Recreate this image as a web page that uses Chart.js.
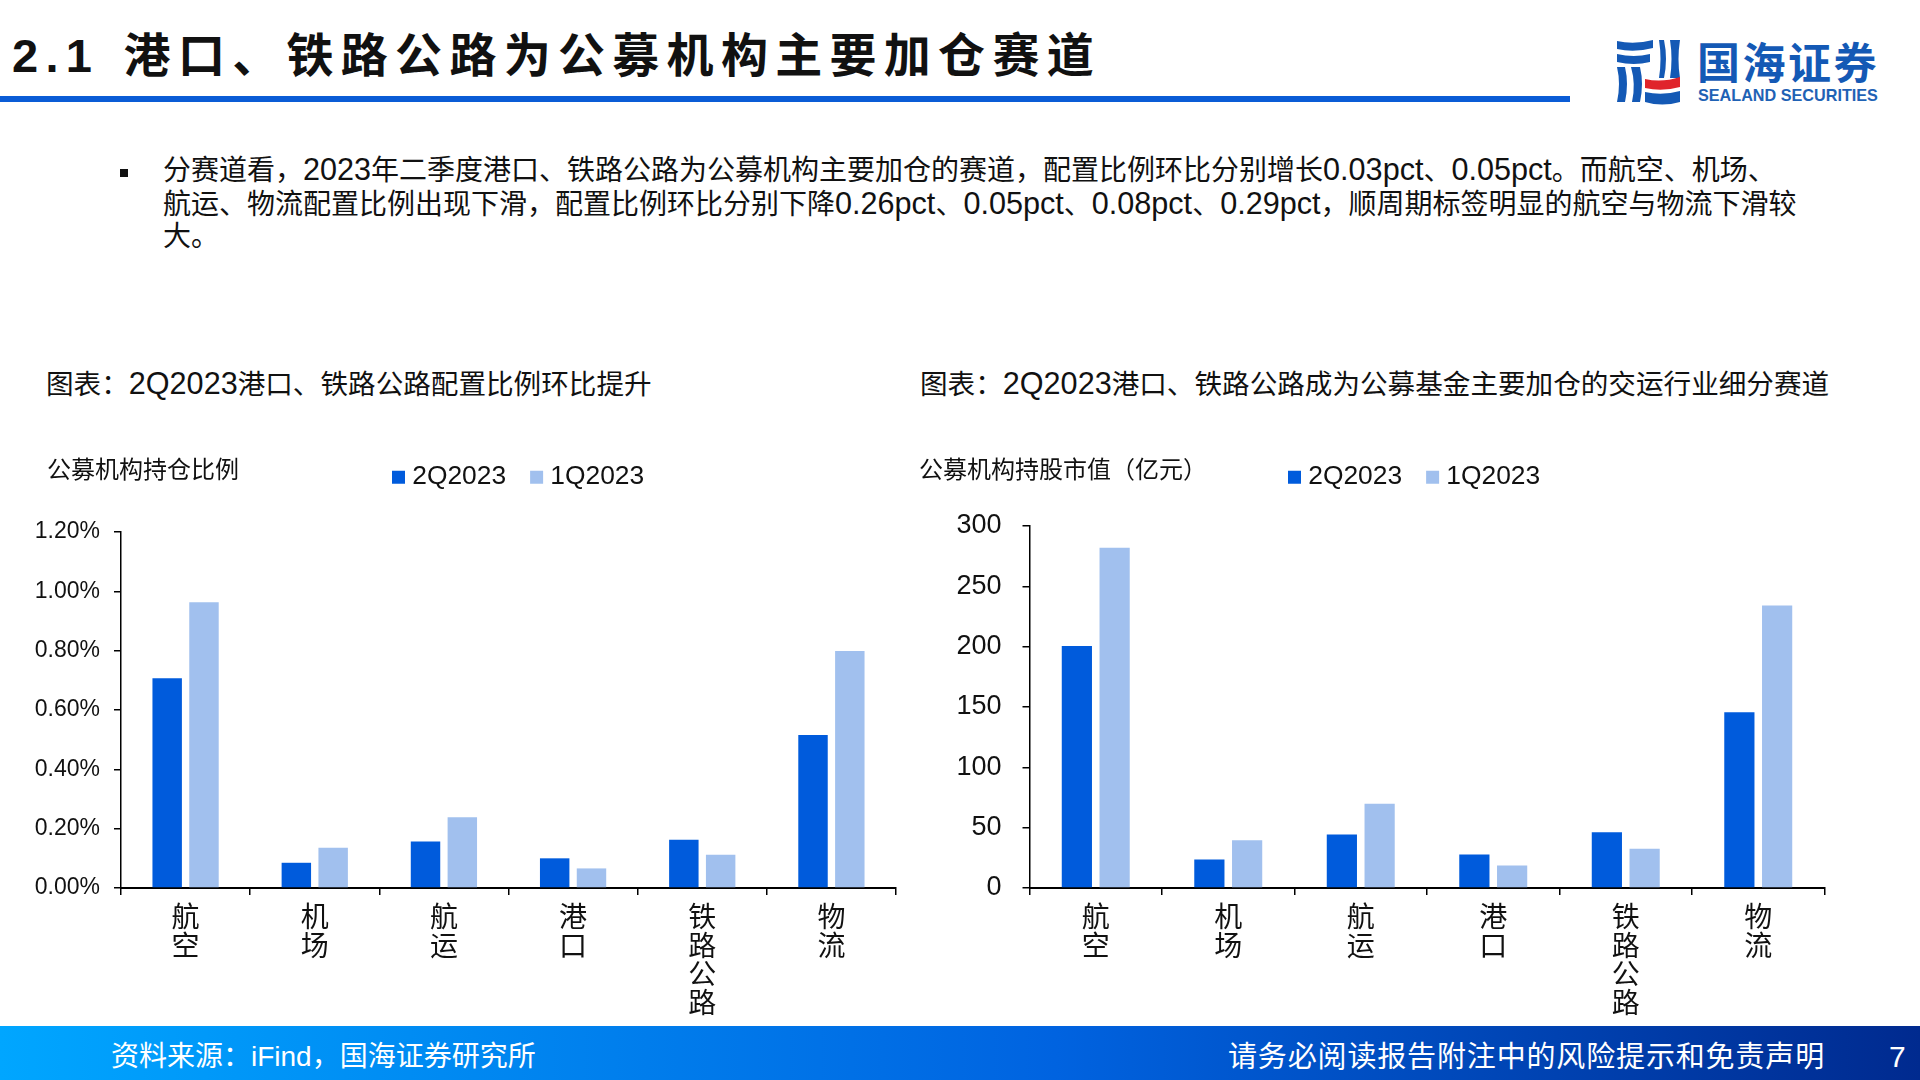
<!DOCTYPE html>
<html lang="zh-CN">
<head>
<meta charset="utf-8">
<title>2.1 港口、铁路公路为公募机构主要加仓赛道</title>
<script src="https://cdn.jsdelivr.net/npm/chart.js@4/dist/chart.umd.min.js"></script>
<style>
    html, body { margin: 0; padding: 0; background: #fff; }
    body { position: relative; width: 1920px; height: 1080px; overflow: hidden;
           font-family: "Liberation Sans", "Noto Sans CJK SC", sans-serif; color: #111; }
    .t { position: absolute; white-space: nowrap; line-height: 1; }
    .t b { font-weight: normal; font-size: 30.6px; }
    canvas { position: absolute; }
    #rule { position: absolute; left: 0; top: 96px; width: 1570px; height: 6px; background: #0a5cd6; }
    #footer { position: absolute; left: 0; top: 1026px; width: 1920px; height: 54px;
              background: linear-gradient(90deg, #00a6ff 0%, #0063e0 55%, #002a8f 100%); }
    #logo { position: absolute; left: 1610px; top: 34px; }
</style>
</head>
<body>
<div class="t" style="left:12px;top:32px;font-size:47px;font-weight:bold;letter-spacing:7.3px;word-spacing:4px;">2.1 港口、铁路公路为公募机构主要加仓赛道</div>
<div id="rule"></div>

<svg id="logo" width="76" height="74" viewBox="0 0 76 74">
    <g fill="#1459b5">
        <path d="M7 7 Q24 11 43 6 V14 Q24 19 7 15 Z"/>
        <path d="M7 20 Q24 24 40 20 V28 Q24 32 7 28 Z"/>
        <path d="M7 33 H15 Q19 50 15 68 H7 Q11 50 7 33 Z"/>
        <path d="M21 33 H30 Q34 50 30 68 H22 Q26 50 21 33 Z"/>
        <path d="M49 6 H54 Q58 25 54 44 H49 Q52 25 49 6 Z"/>
        <path d="M60 6 H70 Q67 25 70 44 H60 Q63 25 60 6 Z"/>
        <path d="M35 58 Q52 62 70 57 V68 Q52 73 35 68 Z"/>
    </g>
    <path d="M35 45 Q52 49 70 43 V53 Q52 58 35 54 Z" fill="#e0242b"/>
</svg>
<div class="t" style="left:1697px;top:43px;font-size:43px;font-weight:bold;color:#1459b5;letter-spacing:2.5px;">国海证券</div>
<div class="t" style="left:1698px;top:87px;font-size:16.2px;font-weight:bold;color:#1f62b5;">SEALAND SECURITIES</div>

<div class="t" style="left:120px;top:169px;width:8px;height:8px;background:#111;"></div>
<div class="t" style="left:163px;top:154px;font-size:28px;">分赛道看，<b>2023</b>年二季度港口、铁路公路为公募机构主要加仓的赛道，配置比例环比分别增长<b>0.03pct</b>、<b>0.05pct</b>。而航空、机场、</div>
<div class="t" style="left:163px;top:188px;font-size:28px;">航运、物流配置比例出现下滑，配置比例环比分别下降<b>0.26pct</b>、<b>0.05pct</b>、<b>0.08pct</b>、<b>0.29pct</b>，顺周期标签明显的航空与物流下滑较</div>
<div class="t" style="left:163px;top:223px;font-size:28px;">大。</div>

<div class="t" style="left:46px;top:368px;font-size:27.6px;">图表：<b>2Q2023</b>港口、铁路公路配置比例环比提升</div>
<div class="t" style="left:920px;top:368px;font-size:27.6px;">图表：<b>2Q2023</b>港口、铁路公路成为公募基金主要加仓的交运行业细分赛道</div>

<canvas id="shareChart" style="left:0;top:440px;" width="940" height="590"></canvas>
<canvas id="valueChart" style="left:940px;top:440px;" width="980" height="590"></canvas>

<div class="t" style="left:47px;top:458px;font-size:24px;">公募机构持仓比例</div>
<div class="t" style="left:919px;top:458px;font-size:24px;">公募机构持股市值（亿元）</div>

<div id="footer"></div>
<div class="t" style="left:111px;top:1043px;font-size:28px;color:#fff;">资料来源：iFind，国海证券研究所</div>
<div class="t" style="left:1228px;top:1043px;font-size:29px;letter-spacing:.85px;color:#fff;">请务必阅读报告附注中的风险提示和免责声明</div>
<div class="t" style="left:1889px;top:1042px;font-size:30px;color:#fff;">7</div>

<script>
const categories = [['航', '空'], ['机', '场'], ['航', '运'], ['港', '口'], ['铁', '路', '公', '路'], ['物', '流']];
const seriesNames = ['2Q2023', '1Q2023'];

// 公募机构持仓比例 (%)
const share2Q = [0.707, 0.085, 0.157, 0.100, 0.163, 0.516];
const share1Q = [0.963, 0.136, 0.238, 0.066, 0.112, 0.799];
const shareTicks = ['0.00%', '0.20%', '0.40%', '0.60%', '0.80%', '1.00%', '1.20%'];

// 公募机构持股市值 (亿元)
const value2Q = [200.4, 23.7, 44.3, 27.8, 46.2, 145.7];
const value1Q = [282, 39.5, 69.9, 18.7, 32.6, 234];
const valueTicks = ['0', '50', '100', '150', '200', '250', '300'];

const colors = ['#005bdc', '#a1c0ee'];
const fontFamily = '"Liberation Sans", "Noto Sans CJK SC", sans-serif';

Chart.defaults.font.family = fontFamily;
Chart.defaults.color = '#111';

// moves the legend from its default top centre to where the slide has it
const legendPlace = {
    id: 'legendPlace',
    afterLayout: function (chart, args, opts) {
        const legend = chart.legend;
        const pad = legend.options.labels.padding;
        const h = legend.height;
        legend.left = opts.x - pad;
        legend.right = legend.left + 400;
        legend.top = opts.y - pad;
        legend.bottom = legend.top + h;
    }
};

function makeChart(canvasId, a, b, tickLabels, cfg) {
    const ctx = document.getElementById(canvasId).getContext('2d');
    return new Chart(ctx, {
        type: 'bar',
        data: {
            labels: categories,
            datasets: [
                { label: seriesNames[0], data: a, backgroundColor: colors[0] },
                { label: seriesNames[1], data: b, backgroundColor: colors[1] }
            ]
        },
        plugins: [legendPlace],
        options: {
            responsive: false,
            animation: false,
            devicePixelRatio: 1,
            layout: { padding: { left: 0, top: cfg.top, right: cfg.right, bottom: 0 } },
            datasets: { bar: { categoryPercentage: 0.57, barPercentage: 0.8 } },
            scales: {
                x: {
                    grid: { offset: true, drawOnChartArea: false, color: '#000', tickLength: 7, lineWidth: 1.5 },
                    border: { color: '#000', width: 2 },
                    afterFit: function (scale) { scale.height = 142; },
                    ticks: {
                        autoSkip: false,
                        maxRotation: 0,
                        minRotation: 0,
                        padding: 10,
                        color: '#111',
                        font: { size: 28, lineHeight: 1.02 }
                    }
                },
                y: {
                    min: 0,
                    max: cfg.max,
                    grid: { drawOnChartArea: false, color: '#000', tickLength: 7, lineWidth: 1.5 },
                    border: { color: '#000', width: 1.5 },
                    afterFit: function (scale) { scale.width = cfg.axisWidth; },
                    ticks: {
                        stepSize: cfg.step,
                        padding: cfg.tickPad,
                        color: '#111',
                        font: { size: cfg.tickSize },
                        callback: function (value, index) { return tickLabels[index]; }
                    }
                }
            },
            plugins: {
                title: { display: false },
                tooltip: { enabled: false },
                legendPlace: { x: cfg.legendX, y: cfg.legendY },
                legend: {
                    position: 'top',
                    align: 'start',
                    labels: {
                        usePointStyle: true,
                        pointStyle: 'rect',
                        boxWidth: 1,
                        boxHeight: 13,
                        padding: 30,
                        color: '#111',
                        font: { size: 26.4 }
                    }
                }
            }
        }
    });
}

makeChart('shareChart', share2Q, share1Q, shareTicks, {
    top: 25.5, right: 44, max: 1.2, step: 0.2, axisWidth: 121, tickPad: 14, tickSize: 23,
    legendX: 398, legendY: 24
});
makeChart('valueChart', value2Q, value1Q, valueTicks, {
    top: 19.5, right: 95.5, max: 300, step: 50, axisWidth: 89.5, tickPad: 21, tickSize: 27,
    legendX: 354, legendY: 24
});
</script>
</body>
</html>
